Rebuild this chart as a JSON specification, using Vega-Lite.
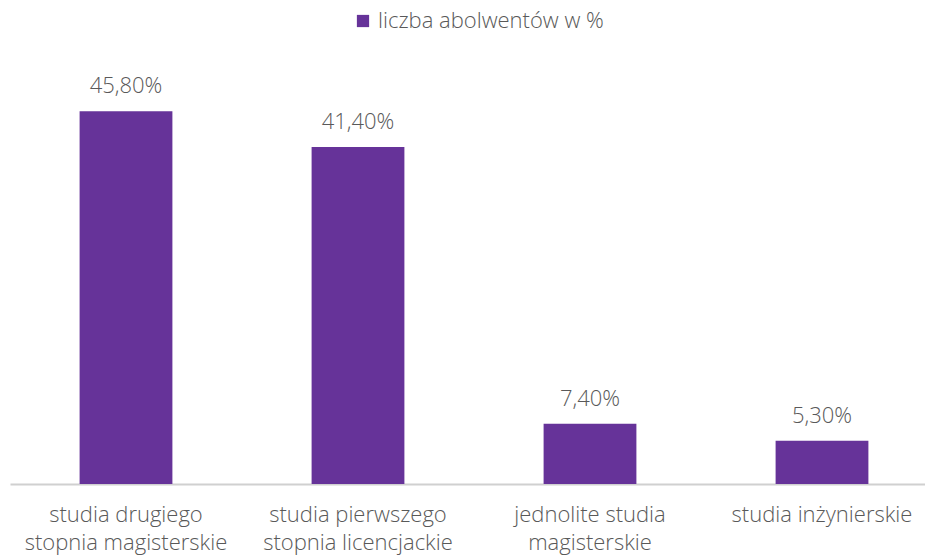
{
  "$schema": "https://vega.github.io/schema/vega-lite/v6.json",
  "autosize": {"type": "none"},
  "padding": {"left": 10, "top": 77, "right": 0, "bottom": 73},
  "width": 915,
  "height": 407,
  "background": "white",
  "config": {
    "view": {"stroke": null},
    "font": "Open Sans",
    "locale": {"number": {"decimal": ",", "thousands": " ", "grouping": [3], "currency": ["", " zł"]}}
  },
  "data": {
    "values": [
      {"kategoria": "studia drugiego|stopnia magisterskie", "udzial": 0.458},
      {"kategoria": "studia pierwszego|stopnia licencjackie", "udzial": 0.414},
      {"kategoria": "jednolite studia|magisterskie", "udzial": 0.074},
      {"kategoria": "studia inżynierskie", "udzial": 0.053}
    ]
  },
  "encoding": {
    "x": {
      "field": "kategoria",
      "type": "nominal",
      "sort": null,
      "scale": {"range": [0, 928], "paddingInner": 0.6, "paddingOuter": 0.3},
      "axis": {
        "title": null,
        "labelAngle": 0,
        "labelExpr": "split(datum.label, '|')",
        "labelFontSize": 22,
        "labelFontWeight": 300,
        "labelColor": "#595959",
        "labelLineHeight": 28,
        "labelPadding": 20,
        "labelLimit": 300,
        "ticks": false,
        "domainColor": "#d0d0d0",
        "domainWidth": 2
      }
    },
    "y": {
      "field": "udzial",
      "type": "quantitative",
      "scale": {"domain": [0, 0.5]},
      "axis": null
    }
  },
  "layer": [
    {
      "mark": {"type": "bar"},
      "encoding": {
        "color": {
          "datum": "liczba abolwentów w %",
          "scale": {"range": ["#663399"]},
          "legend": {
            "title": null,
            "orient": "none",
            "legendX": 342,
            "legendY": -67,
            "symbolType": "square",
            "symbolSize": 150,
            "symbolStrokeWidth": 0,
            "labelFontSize": 22,
            "labelFontWeight": 300,
            "labelColor": "#595959",
            "labelOffset": 4,
            "labelLimit": 400
          }
        }
      }
    },
    {
      "mark": {"type": "text", "baseline": "alphabetic", "dy": -18, "fontSize": 22, "fontWeight": 300, "color": "#595959"},
      "encoding": {
        "text": {"field": "udzial", "type": "quantitative", "format": ".2%"}
      }
    }
  ]
}
